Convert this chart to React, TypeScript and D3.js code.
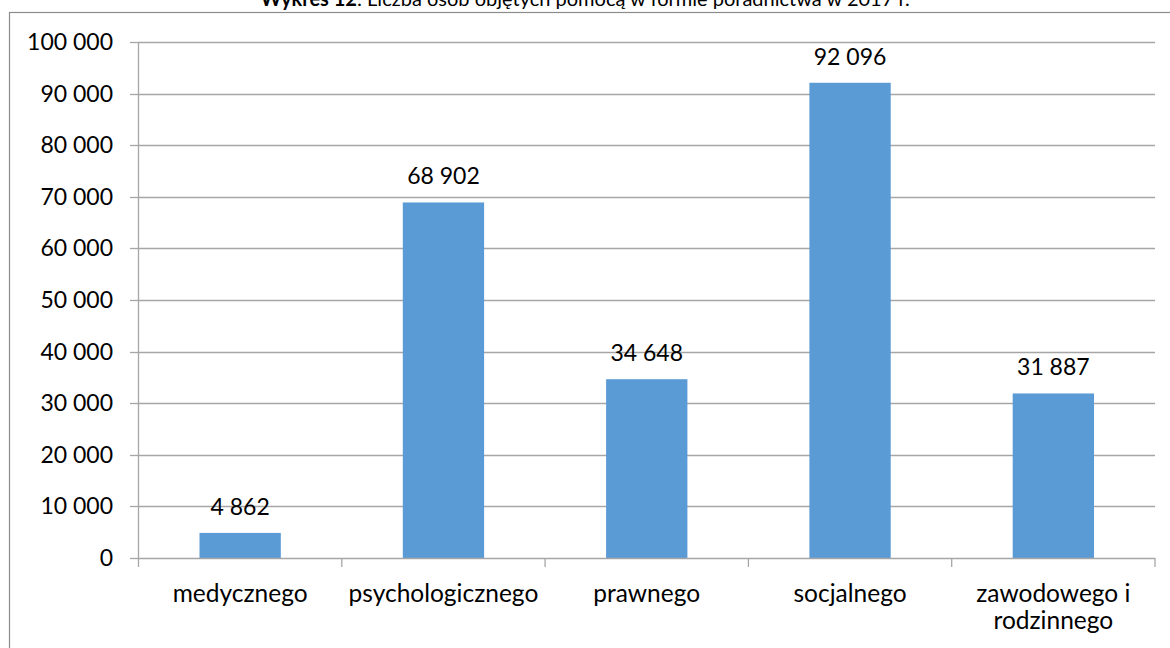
import React from "react";
import * as d3 from "d3";

const categories: string[][] = [
  ["medycznego"],
  ["psychologicznego"],
  ["prawnego"],
  ["socjalnego"],
  ["zawodowego i", "rodzinnego"],
];
const values: number[] = [4862, 68902, 34648, 92096, 31887];
const yTicks: number[] = [0, 10000, 20000, 30000, 40000, 50000, 60000, 70000, 80000, 90000, 100000];
const titleBold = "Wykres 12";
const titleRest = ": Liczba osób objętych pomocą w formie poradnictwa w 2017 r.";

const fmt = (v: number) => d3.format(",")(v).replace(/,/g, " ");

export default function App() {
  const W = 1170, H = 648;
  const left = 138.5, right = 1155, top = 42, bottom = 558;
  const x = d3.scaleBand<number>().domain(d3.range(values.length)).range([left, right]).paddingInner(0).paddingOuter(0);
  const y = d3.scaleLinear().domain([0, 100000]).range([bottom, top]);
  const bw = x.bandwidth() / 2.5;
  const font = "Lato, Calibri, sans-serif";
  const fs = 23;
  const fsCat = 24.5;
  return (
    <svg width={W} height={H} style={{ position: "absolute", left: 0, top: 0, background: "#fff" }} fontFamily={font}>
      <text x={585} y={6} textAnchor="middle" fontSize={20} fill="#000">
        <tspan fontWeight="bold">{titleBold}</tspan>
        <tspan>{titleRest}</tspan>
      </text>
      <rect x={9.5} y={12.5} width={1200} height={700} fill="#fff" stroke="#8c8c8c" strokeWidth={1.2} />
      {yTicks.map((t) => (
        <g key={t}>
          {t > 0 && <line x1={left} x2={right} y1={Math.round(y(t)) + 0.5} y2={Math.round(y(t)) + 0.5} stroke="#a6a6a6" strokeWidth={1.3} />}
          <line x1={130} x2={left} y1={Math.round(y(t)) + 0.5} y2={Math.round(y(t)) + 0.5} stroke="#a6a6a6" strokeWidth={1.3} />
          <text x={113} y={y(t)} dy="0.35em" textAnchor="end" fontSize={fs} fill="#000">{fmt(t)}</text>
        </g>
      ))}
      {values.map((v, i) => {
        const cx = (x(i) as number) + x.bandwidth() / 2;
        return (
          <g key={i}>
            <rect x={cx - bw / 2} y={y(v)} width={bw} height={y(0) - y(v)} fill="#5B9BD5" />
            <text x={cx} y={y(v) - 18} textAnchor="middle" fontSize={fs} fill="#000">{fmt(v)}</text>
            {categories[i].map((line, j) => (
              <text key={j} x={cx} y={602 + j * 27} textAnchor="middle" fontSize={fsCat} fill="#000">{line}</text>
            ))}
          </g>
        );
      })}
      <line x1={left} x2={left} y1={top} y2={bottom} stroke="#a6a6a6" strokeWidth={1.3} />
      <line x1={left} x2={right} y1={Math.round(y(0)) + 0.5} y2={Math.round(y(0)) + 0.5} stroke="#a6a6a6" strokeWidth={1.3} />
      {d3.range(values.length + 1).map((i) => {
        const xx = i < values.length ? (x(i) as number) : right;
        return <line key={i} x1={xx} x2={xx} y1={bottom} y2={567} stroke="#a6a6a6" strokeWidth={1.3} />;
      })}
    </svg>
  );
}
